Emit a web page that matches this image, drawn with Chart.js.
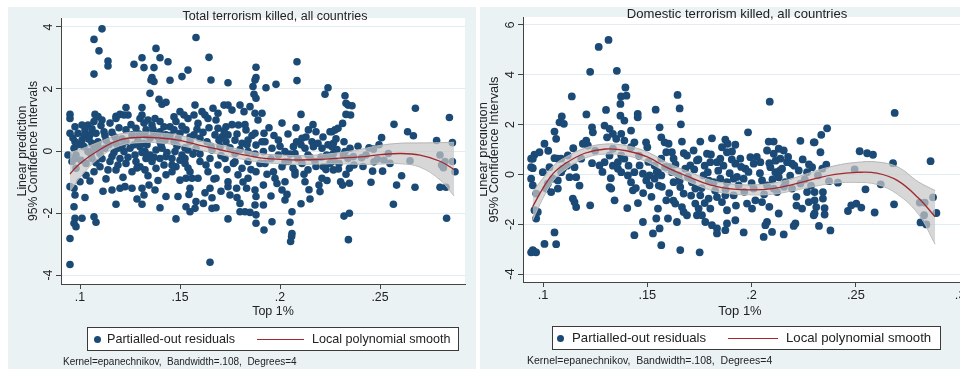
<!DOCTYPE html>
<html>
<head>
<meta charset="utf-8">
<script src="https://cdn.jsdelivr.net/npm/chart.js@4.4.1/dist/chart.umd.min.js"></script>
<style>
  body { margin: 0; width: 960px; height: 369px; overflow: hidden; position: relative; background: #fff; font-family: "Liberation Sans", Arial, sans-serif; color: #222; }
  canvas { position: absolute; }
  .txt { position: absolute; white-space: pre; text-align: center; }
  .legend { position: absolute; background: #fff; border: 1px solid #3a3a3a; box-sizing: border-box; }
  .legend .dot { position: absolute; width: 7px; height: 7px; border-radius: 50%; background: #1a4a75; }
  .legend .ln { position: absolute; height: 0; border-top: 1.5px solid #a3282e; }
  .legend .lab { position: absolute; white-space: pre; }
  .note { position: absolute; white-space: pre; }
</style>
</head>
<body>
<canvas id="totalChart" width="468" height="362" style="left:8px;top:7px"></canvas>
<canvas id="domesticChart" width="520" height="362" style="left:480px;top:7px"></canvas>

<div class="txt" style="left:125px;top:8px;width:300px;font-size:12.5px;line-height:16px">Total terrorism killed, all countries</div>
<div class="txt" style="left:187px;top:303px;width:172px;font-size:12.5px;line-height:16px">Top 1%</div>
<div class="legend" style="left:87px;top:327px;width:372px;height:24px">
  <span class="dot" style="left:6px;top:8px"></span>
  <span class="lab" style="left:19px;top:0;line-height:22px;font-size:12.6px">Partialled-out residuals</span>
  <span class="ln" style="left:169px;top:11px;width:47px"></span>
  <span class="lab" style="left:224px;top:0;line-height:22px;font-size:12.6px">Local polynomial smooth</span>
</div>
<div class="note" style="left:63px;top:355px;font-size:10px;line-height:13px">Kernel=epanechnikov,  Bandwidth=.108,  Degrees=4</div>

<div class="txt" style="left:587px;top:6px;width:300px;font-size:13.1px;line-height:16px">Domestic terrorism killed, all countries</div>
<div class="txt" style="left:654px;top:303px;width:172px;font-size:13px;line-height:16px">Top 1%</div>
<div class="legend" style="left:552px;top:326px;width:389px;height:24px">
  <span class="dot" style="left:4px;top:8px"></span>
  <span class="lab" style="left:19px;top:0;line-height:22px;font-size:13.2px">Partialled-out residuals</span>
  <span class="ln" style="left:175px;top:11px;width:50px"></span>
  <span class="lab" style="left:233px;top:0;line-height:22px;font-size:13.2px">Local polynomial smooth</span>
</div>
<div class="note" style="left:527px;top:354px;font-size:10.5px;line-height:13px">Kernel=epanechnikov,  Bandwidth=.108,  Degrees=4</div>

<script>
// Tick values shared by both panels
const xTicks = [0.1, 0.15, 0.2, 0.25, 0.3];
const xTickLabels = ['.1', '.15', '.2', '.25', '.3'];
const totalYTicks = [-4, -2, 0, 2, 4];
const domesticYTicks = [-4, -2, 0, 2, 4, 6];

// Total terrorism killed: partialled-out residuals [top 1% share, residual]
const totalResid = [
  [.111,3.94],[.107,3.60],[.1095,3.23],[.114,2.90],[.114,2.74],[.107,2.48],[.138,3.31],[.140,3.01],[.131,3.01],[.127,2.80],
  [.132,2.69],[.137,2.69],[.144,2.88],[.154,2.61],[.151,2.40],[.136,2.37],[.137,2.24],[.1355,2.29],[.145,2.28],[.135,1.86],
  [.131,1.40],[.1395,1.67],[.141,1.51],[.143,1.57],[.123,1.40],[.118,1.12],[.120,1.18],[.124,1.16],
  [.095,1.18],[.095,1.05],[.101,0.84],[.0975,0.78],[.1075,1.18],[.109,1.11],[.111,1.00],[.107,0.95],[.104,0.84],[.118,1.05],
  [.122,1.16],[.131,1.16],[.130,1.05],[.134,1.00],[.1375,1.05],[.136,0.84],[.140,0.95],[.145,0.78],[.150,1.27],[.152,1.16],
  [.154,1.05],[.157,1.16],[.148,0.95],
  [.095,0.57],[.099,0.57],[.1025,0.68],[.105,0.52],[.108,0.57],[.112,0.62],[.116,0.60],[.123,0.68],[.126,0.52],[.128,0.73],
  [.1325,0.52],[.133,0.68],[.137,0.57],[.140,0.62],[.143,0.52],[.147,0.68],[.150,0.57],[.153,0.68],[.157,0.52],[.0975,0.30],
  [.101,0.35],[.106,0.25],[.109,0.30],[.113,0.35],[.118,0.25],[.121,0.39],[.129,0.35],[.132,0.25],[.135,0.41],[.140,0.30],
  [.1425,0.35],[.147,0.30],[.149,0.39],[.155,0.30],
  [.094,-0.13],[.097,0.09],[.098,-0.13],[.102,0.14],[.104,-0.02],[.107,0.09],[.110,-0.08],[.1125,0.09],[.119,0.09],[.122,-0.02],
  [.125,0.09],[.1275,-0.13],[.130,0.14],[.1325,-0.02],[.135,-0.13],[.138,0.03],[.141,0.09],[.143,-0.18],[.1475,-0.02],[.151,-0.13],
  [.154,0.03],[.0975,-0.24],[.106,-0.24],[.116,-0.18],[.120,-0.24],[.133,-0.24],[.140,-0.24],[.146,-0.24],[.1525,-0.24],
  [.096,-0.34],[.098,-0.56],[.103,-0.40],[.107,-0.67],[.110,-0.51],[.115,-0.34],[.118,-0.61],[.123,-0.40],[.126,-0.67],[.130,-0.51],
  [.1325,-0.61],[.136,-0.34],[.138,-0.56],[.142,-0.45],[.146,-0.67],[.148,-0.51],[.1525,-0.40],[.155,-0.67],[.114,-0.61],[.128,-0.34],
  [.143,-0.77],
  [.095,-1.15],[.097,-1.20],[.0975,-1.42],[.100,-0.99],[.105,-0.97],[.116,-1.26],[.120,-1.20],[.1225,-1.15],[.126,-1.20],[.131,-1.20],
  [.132,-1.42],[.1375,-1.26],[.143,-1.47],[.149,-1.47],[.153,-0.88],[.150,-0.94],[.156,-0.88],[.155,-1.20],[.118,-1.72],[.131,-1.72],
  [.140,-1.83],[.153,-1.80],[.155,-1.96],[.1575,-1.85],
  [.097,-1.80],[.0975,-2.17],[.097,-2.33],[.098,-2.44],[.101,-2.17],[.107,-2.12],[.108,-2.30],[.095,-2.82],[.095,-3.66],[.148,-2.19],
  [.158,3.66],[.1645,3.02],[.1655,2.29],[.174,2.20],[.188,2.70],[.188,2.37],[.1875,2.29],[.1865,2.08],[.187,1.83],[.188,1.70],
  [.193,2.04],[.198,2.15],[.2085,2.88],[.2085,2.27],[.2105,1.18],[.224,2.04],[.2225,1.83],
  [.1575,1.48],[.161,1.27],[.1625,1.16],[.1665,1.38],[.169,1.22],[.172,1.48],[.174,1.48],[.176,1.32],[.180,1.48],[.182,1.27],
  [.185,1.43],[.1875,1.22],[.191,1.22],[.1792,0.84],[.159,0.89],[.164,1.05],[.169,0.73],[.173,0.78],[.183,0.68],[.1875,0.57],
  [.192,0.57],[.2142,0.68],[.218,0.62],[.211,0.41],[.216,0.30],[.225,0.62],
  [.160,0.41],[.1635,0.30],[.1675,0.52],[.171,0.46],[.174,0.52],[.173,0.30],[.1775,0.35],[.181,0.25],[.184,0.35],[.188,0.19],
  [.1925,0.30],[.196,0.09],[.1992,0.35],[.2025,-0.02],[.2067,0.14],[.2083,0.30],[.2125,0.09],[.2167,0.14],[.221,0.09],[.158,0.09],
  [.166,0.03],[.170,0.14],[.1775,-0.08],[.184,-0.02],[.1917,-0.02],[.1992,-0.13],[.2075,-0.08],[.214,-0.13],[.2233,-0.13],
  [.160,-0.34],[.165,-0.24],[.169,-0.45],[.1725,-0.24],[.1767,-0.40],[.181,-0.56],[.184,-0.34],[.188,-0.67],[.1925,-0.40],[.1967,-0.67],
  [.201,-0.51],[.2042,-0.34],[.2075,-0.67],[.211,-0.40],[.214,-0.61],[.2175,-0.34],[.2217,-0.51],[.225,-0.40],[.164,-0.67],[.159,-0.88],
  [.168,-0.88],[.174,-0.99],[.179,-0.77],[.184,-0.88],[.1917,-1.10],[.1975,-0.88],[.2025,-0.99],[.2075,-0.77],[.2125,-0.99],[.221,-0.88],
  [.165,-1.20],[.174,-1.15],[.1783,-1.20],[.1833,-1.20],[.175,-1.42],[.166,-1.51],[.1875,-1.26],[.188,-1.47],[.201,-1.26],[.2025,-1.58],
  [.215,-1.55],[.220,-1.31],[.158,-1.63],[.1617,-1.69],[.166,-1.85],[.168,-1.83],[.180,-1.69],[.1875,-1.74],[.1917,-1.74],[.180,-1.96],
  [.1825,-1.96],[.185,-1.98],[.188,-2.06],[.206,-1.96],[.174,-2.19],[.188,-2.33],[.196,-2.28],[.205,-2.30],[.192,-2.55],[.206,-2.66],
  [.2058,-2.76],[.2053,-2.92],[.165,-3.59],
  [.2325,1.78],[.233,1.54],[.234,1.48],[.236,1.46],[.233,1.18],[.2353,1.16],[.2313,0.89],[.229,0.73],[.2275,0.68],[.226,0.62],
  [.228,0.39],[.2267,0.25],[.226,0.14],[.235,0.09],[.2325,-0.02],[.2317,-0.13],[.234,-0.24],[.2367,-0.18],[.2267,-0.08],[.226,-0.34],
  [.2408,-0.22],[.243,-0.13],[.2467,0.06],[.2487,-0.26],[.2508,0.43],[.2542,-0.08],[.257,0.86],[.255,-0.40],[.2513,-0.65],[.2463,-0.65],
  [.2455,-1.01],[.2267,-0.61],[.2292,-0.58],[.233,-0.75],[.2347,-0.56],[.2303,-0.99],[.2313,-1.10],[.2347,-1.04],[.2608,-0.80],[.2583,-1.10],
  [.2567,-1.72],[.2638,0.62],[.2667,0.49],[.265,-0.32],[.2677,1.38],[.2675,-1.17],[.2783,0.34],[.280,-0.13],[.2808,-0.45],[.2817,-0.54],
  [.2825,-0.34],[.2847,1.08],[.2862,0.27],[.2862,-0.34],[.2875,-0.67],[.280,-1.17],[.283,-1.17],[.232,-2.10],[.2347,-2.01],[.2342,-2.86],
  [.2833,-2.17],
  [.0965,0.42],[.099,0.20],[.1005,-0.30],[.102,0.50],[.103,-0.78],[.1045,0.38],[.1055,-0.10],[.106,0.72],[.108,-0.38],[.109,0.15],
  [.1105,0.82],[.111,-0.25],[.1125,0.50],[.113,-0.90],[.1145,0.20],[.115,0.90],[.117,-0.05],[.1175,0.45],[.119,-0.45],[.1195,0.75],
  [.121,0.15],[.1215,-0.85],[.123,0.30],[.124,-0.20],[.1255,0.85],[.127,0.20],[.1285,-0.55],[.1295,0.55],[.131,-0.05],[.132,0.90],
  [.1335,0.20],[.134,-0.80],[.1365,0.70],[.137,-0.20],[.139,0.45],[.139,-0.95],[.1405,0.20],[.142,0.78],[.1435,-0.05],[.145,0.50],
  [.146,-0.45],[.147,1.10],[.1485,0.15],[.150,-0.30],[.151,0.80],[.1525,0.10],[.154,-0.55],[.155,0.45],[.1565,-0.10],[.1585,0.70],
  [.160,-0.10],[.1615,0.60],[.163,-0.45],[.1645,0.75],[.1655,0.15],[.167,-0.90],[.168,1.00],[.1695,0.35],[.1705,-0.15],[.172,0.65],
  [.1735,-0.60],[.175,0.10],[.176,0.85],[.1775,-0.35],[.1785,0.55],[.180,0.05],[.1815,-1.00],[.1825,0.85],[.1835,0.20],[.1855,-0.60],
  [.186,0.50],[.1875,-0.10],[.189,1.00],[.190,-0.40],[.191,0.30],[.1935,-0.75],[.1945,0.75],[.1955,-0.25],[.197,0.50],[.1985,-1.05],
  [.200,0.15],[.201,0.90],[.2025,-0.35],[.204,0.55],[.205,-0.10],[.2065,-0.55],[.208,0.75],[.209,-0.25],[.2105,0.20],[.212,-0.75],
  [.213,0.45],[.215,-0.20],[.2165,0.85],[.218,-0.50],[.219,0.25],[.2205,-0.20],[.2215,0.45],[.223,-0.60],[.224,0.20],[.2255,-0.15],
  [.227,-0.30],[.2285,0.05],[.2295,-0.40],[.232,0.30],[.237,-0.45],[.239,0.15],[.2415,-0.50],[.2445,0.10],[.247,-0.35],[.2495,0.20],
  [.252,-0.30],[.2195,-1.10],[.2145,-1.25],[.2035,-1.40],[.1955,-1.45],[.1705,-1.30],[.1545,-1.40],[.1345,-1.10],[.1115,-1.30],[.1025,-1.50],
  [.1285,-1.55],[.2105,-1.70],[.1625,-1.35],[.2235,-0.95],[.1785,-1.50]
];

// Total terrorism killed: local polynomial smooth and 95% band
const totalSmoothX = [.095, .10, .11, .12, .13, .14, .15, .16, .17, .18, .19, .20, .21, .22, .23, .24, .25, .26, .27, .28, .287];
const totalSmooth  = [-0.74, -0.40, 0.05, 0.36, 0.44, 0.42, 0.34, 0.18, 0.04, -0.10, -0.22, -0.27, -0.29, -0.27, -0.23, -0.19, -0.12, -0.08, -0.13, -0.33, -0.60];
const totalUpper   = [-0.05, 0.05, 0.30, 0.55, 0.61, 0.58, 0.50, 0.33, 0.19, 0.05, -0.08, -0.13, -0.15, -0.12, -0.05, 0.05, 0.18, 0.25, 0.26, 0.27, 0.28];
const totalLower   = [-1.30, -0.85, -0.20, 0.17, 0.27, 0.26, 0.18, 0.03, -0.11, -0.25, -0.36, -0.41, -0.43, -0.42, -0.41, -0.43, -0.42, -0.41, -0.52, -0.93, -1.45];

// Domestic terrorism killed: partialled-out residuals
const domesticResid = [
  [.1314,5.40],[.1267,5.12],[.1226,4.12],[.1354,4.16],[.1138,3.13],[.1395,3.49],[.1374,3.13],[.1371,2.83],[.140,3.16],[.1302,2.59],
  [.1371,2.36],[.139,2.16],[.1454,2.43],[.1454,2.29],[.154,2.60],[.1208,2.41],[.109,2.33],[.1079,2.09],[.110,2.03],[.1055,1.72],
  [.1007,1.23],[.0983,0.89],[.0959,0.79],[.0951,0.63],[.0951,0.25],[.1063,1.43],[.1235,1.89],[.1239,1.69],[.1207,1.36],[.1191,1.23],
  [.1215,1.16],[.1295,1.96],[.1319,1.83],[.1335,1.63],[.1307,1.49],[.1351,1.43],[.1375,1.63],[.139,1.36],[.1422,1.76],[.1438,1.29],
  [.1422,1.09],[.1494,1.29],[.150,1.09],[.1559,1.89],[.1567,1.49],[.1583,1.29],[.1119,0.76],[.1183,0.63],[.1151,0.29],[.1055,0.65],
  [.1071,0.63],[.1087,0.63],[.1031,0.29],[.0999,0.09],[.1047,-0.17],[.1071,-0.24],[.1087,0.09],[.1095,0.23],[.1023,-0.37],[.1015,-0.57],
  [.1039,-0.71],[.1071,-0.57],[.0943,-0.17],[.0951,-0.44],[.0967,-0.77],[.0943,0.63],[.0959,-1.44],[.0975,-1.51],[.0967,-1.77],[.0943,0.29],
  [.1127,-0.11],[.1159,-0.11],[.1143,-0.97],[.1159,-1.31],[.1151,-1.11],[.1226,-1.24],[.1055,-2.33],[.1063,-2.80],[.1007,-2.79],[.0951,-3.04],
  [.0959,-3.11],[.0967,-3.13],[.0943,-3.13],[.1271,0.36],[.1295,0.49],[.1319,0.76],[.1335,1.03],[.1359,0.49],[.1375,0.76],[.139,0.63],
  [.1359,0.23],[.1319,-0.51],[.1327,-0.57],[.1343,-1.04],[.1375,0.09],[.1407,-0.04],[.1422,-0.31],[.1438,0.09],[.1404,-1.35],[.1431,-0.64],
  [.1438,-2.44],[.1463,0.36],[.1479,0.03],[.1495,-0.24],[.1511,-0.44],[.1511,-0.04],[.1535,-0.17],[.1551,0.09],[.1567,-0.04],[.1535,0.36],
  [.1567,0.63],[.1591,0.89],[.1479,-1.91],[.1527,-2.37],[.1543,-1.77],[.1567,-2.84],[.1551,-1.37],[.1591,-1.04],[.1559,-2.17],[.1599,-1.77],
  [.1645,3.19],[.1655,2.65],[.1661,2.01],[.2087,2.92],[.1666,1.32],[.1754,1.32],[.1810,1.45],[.1874,1.40],[.1885,1.23],[.1858,1.09],
  [.1922,1.19],[.1906,0.92],[.1983,1.69],[.2082,1.32],[.2106,1.32],[.2234,1.35],[.2298,1.29],[.1602,1.23],[.1618,0.89],[.1626,0.63],
  [.169,0.76],[.1722,0.96],[.1738,0.56],[.1786,0.83],[.1802,0.49],[.1834,0.49],[.185,0.63],[.1882,0.89],[.1922,0.43],[.1946,0.63],
  [.197,0.23],[.1994,0.69],[.201,0.43],[.2042,0.49],[.2074,0.96],[.2106,0.83],[.213,1.03],[.2154,0.96],[.2138,0.63],[.217,0.49],
  [.2194,0.43],[.2226,0.16],[.2266,0.09],[.229,0.29],[.2090,0.29],[.2114,0.09],[.2146,0.23],[.213,-0.11],[.1602,0.29],[.1618,0.09],
  [.165,-0.04],[.1682,0.23],[.1706,0.36],[.1626,-0.31],[.1658,-0.51],[.1674,-0.77],[.1714,-0.31],[.173,-0.57],[.177,-0.04],[.179,0.09],
  [.1818,-0.31],[.185,-0.17],[.1882,-0.31],[.1914,-0.17],[.1938,-0.44],[.1962,-0.17],[.201,-0.57],[.205,-0.24],[.2074,-0.44],[.2106,-0.57],
  [.2122,-0.71],[.2162,-0.31],[.2194,-0.57],[.2234,-0.37],[.2266,-0.71],[.1754,-0.84],[.1794,-0.97],[.1834,-0.91],[.1874,-0.84],[.1914,-0.84],
  [.1634,-1.17],[.1666,-1.31],[.169,-1.64],[.1642,-1.91],[.1674,-1.51],[.173,-1.17],[.1746,-1.37],[.1762,-1.64],[.1738,-1.64],[.1802,-1.37],
  [.1778,-1.91],[.181,-2.04],[.1834,-2.37],[.1834,-2.17],[.1874,-2.24],[.1882,-1.97],[.1922,-1.84],[.1978,-1.17],[.2002,-1.37],[.2018,-1.04],
  [.205,-1.11],[.213,-1.57],[.2074,-1.91],[.2066,-2.04],[.2098,-2.31],[.2058,-2.51],[.2154,-2.41],[.1962,-2.33],[.221,-1.97],[.2202,-2.07],
  [.2242,-1.37],[.2274,-1.11],[.2298,-1.64],[.1658,-3.04],[.1751,-3.13],[.1882,-1.44],[.1858,-1.11],
  [.2686,2.47],[.2362,1.85],[.2334,1.59],[.2302,1.29],[.2330,0.89],[.2358,0.39],[.2339,0.23],[.2318,-0.04],[.2371,-0.27],[.2414,-0.33],
  [.2518,0.93],[.2554,0.85],[.2582,0.79],[.2494,0.20],[.2678,0.45],[.2858,0.53],[.2546,-0.60],[.2619,-0.40],[.2683,-1.20],[.2590,-1.53],
  [.2462,-1.47],[.2478,-1.24],[.2502,-1.17],[.2526,-1.33],[.2302,-0.71],[.2342,-0.71],[.2302,-1.04],[.2342,-0.97],[.231,-1.31],[.235,-1.35],
  [.2302,-1.57],[.2350,-1.61],[.2323,-2.07],[.2378,-2.25],[.2806,-1.13],[.2830,-1.13],[.287,-0.92],[.2886,-1.55],[.2827,-1.64],[.281,-1.93],
  [.2838,-2.01],
  [.141,0.35],[.1445,-0.55],[.146,0.75],[.148,-0.75],[.1505,0.50],[.152,-0.90],[.1545,0.10],[.157,-0.50],[.1585,0.30],[.1605,-0.75],
  [.1635,0.40],[.1655,-0.25],[.1675,0.85],[.1695,-0.10],[.171,-0.85],[.1725,0.20],[.1745,0.60],[.176,-0.55],[.1775,0.35],[.1795,-0.25],
  [.1805,0.80],[.1825,-0.65],[.184,0.15],[.1865,0.35],[.1875,-0.60],[.1895,0.05],[.1905,0.60],[.193,-0.10],[.195,0.30],[.1965,-0.70],
  [.1985,0.10],[.200,-0.35],[.2025,0.70],[.204,0.05],[.206,-0.80],[.2085,0.45],[.210,-0.20],[.2115,0.55],[.2135,0.15],[.2155,-0.50],
  [.2175,0.70],[.2185,-0.05],[.2205,0.35],[.2215,-0.90],[.2245,0.60],[.2255,-0.20],[.2275,0.40],[.2285,-0.45],[.1625,-1.05],[.1775,-1.15],
  [.1925,-1.25],[.2085,-1.30],[.2215,-1.25],[.1555,-0.45],[.1455,-1.15],[.1325,-0.15],[.1285,0.10],[.1235,0.45],[.1175,-0.45],[.1115,0.35],
  [.1025,0.95],[.1145,1.05],[.125,0.95],[.1335,0.35]
];

// Domestic terrorism killed: local polynomial smooth and 95% band
const domesticSmoothX = [.095, .10, .105, .11, .12, .13, .14, .15, .16, .17, .18, .19, .20, .21, .22, .23, .24, .25, .26, .27, .28, .288];
const domesticSmooth  = [-1.30, -0.55, 0.05, 0.40, 0.85, 1.02, 0.95, 0.70, 0.25, -0.10, -0.42, -0.58, -0.62, -0.57, -0.40, -0.18, 0.00, 0.08, 0.05, -0.25, -0.95, -1.70];
const domesticUpper   = [-0.72, -0.15, 0.35, 0.65, 1.05, 1.22, 1.15, 0.90, 0.45, 0.10, -0.22, -0.38, -0.42, -0.35, -0.15, 0.12, 0.35, 0.48, 0.50, 0.30, -0.30, -0.65];
const domesticLower   = [-1.85, -0.95, -0.25, 0.15, 0.65, 0.82, 0.75, 0.50, 0.05, -0.30, -0.62, -0.78, -0.82, -0.80, -0.65, -0.48, -0.35, -0.32, -0.40, -0.80, -1.60, -2.80];

const FONT = '"Liberation Sans", Arial, sans-serif';

// Light blue graph background with white plot region, like Stata s2color
const panelBg = {
    id: 'panelBg',
    beforeDraw(chart) {
        const { ctx, chartArea: a } = chart;
        ctx.save();
        ctx.fillStyle = '#eaf2f4';
        ctx.fillRect(0, 0, chart.width, chart.height);
        ctx.fillStyle = '#ffffff';
        ctx.fillRect(a.left, a.top, a.right - a.left, a.bottom - a.top);
        ctx.restore();
    }
};

function pairs(xs, ys) {
    return xs.map((x, i) => ({ x: x, y: ys[i] }));
}

function makePanel(id, p) {
    const ctx = document.getElementById(id).getContext('2d');
    return new Chart(ctx, {
        type: 'scatter',
        data: {
            datasets: [
                // CI band sits over the dots, the smooth over everything
                {
                    data: pairs(p.smoothX, p.upper),
                    showLine: true, pointRadius: 0, tension: 0.4,
                    borderColor: '#b4b4b4', borderWidth: 1,
                    backgroundColor: 'rgba(200,200,200,0.72)',
                    fill: '+1', order: 2
                },
                {
                    data: pairs(p.smoothX, p.lower),
                    showLine: true, pointRadius: 0, tension: 0.4,
                    borderColor: '#b4b4b4', borderWidth: 1,
                    fill: false, order: 2
                },
                {
                    data: p.resid.map(r => ({ x: r[0], y: r[1] })),
                    pointRadius: p.dot, pointBorderWidth: 0,
                    backgroundColor: '#1a4a75', order: 3
                },
                {
                    data: pairs(p.smoothX, p.smooth),
                    showLine: true, pointRadius: 0, tension: 0.4,
                    borderColor: '#a3282e', borderWidth: 1.3,
                    fill: false, order: 1
                }
            ]
        },
        options: {
            responsive: false,
            animation: false,
            devicePixelRatio: 1,
            layout: { padding: { left: 0, right: p.padRight, top: p.padTop, bottom: p.padBottom } },
            plugins: { legend: { display: false }, tooltip: { enabled: false } },
            scales: {
                x: {
                    type: 'linear', min: p.xMin, max: p.xMax,
                    afterBuildTicks: s => { s.ticks = xTicks.filter(v => v <= p.xMax).map(v => ({ value: v })); },
                    afterFit: s => { s.height = 20; },
                    ticks: {
                        autoSkip: false, maxRotation: 0, minRotation: 0, padding: 1,
                        color: '#222', font: { family: FONT, size: p.fs },
                        callback: v => xTickLabels[xTicks.indexOf(v)]
                    },
                    grid: { drawOnChartArea: false, drawTicks: true, tickLength: 5, tickColor: '#444' },
                    border: { color: '#444', width: 1 }
                },
                y: {
                    min: p.yMin, max: p.yMax,
                    afterBuildTicks: s => { s.ticks = p.yTicks.map(v => ({ value: v })); },
                    afterFit: s => { s.width = p.yWidth; },
                    ticks: {
                        minRotation: 90, maxRotation: 90, crossAlign: 'center', padding: p.yTickPad,
                        color: '#222', font: { family: FONT, size: p.fs }
                    },
                    grid: { color: '#e3ecf0', lineWidth: 1, drawTicks: true, tickLength: 5, tickColor: '#444' },
                    border: { color: '#444', width: 1 },
                    title: {
                        display: true,
                        text: ['Linear prediction', '95% Confidence Intervals'],
                        color: '#222',
                        font: { family: FONT, size: p.fs, lineHeight: p.titleLh },
                        padding: { top: p.titlePad, bottom: 0 }
                    }
                }
            }
        },
        plugins: [panelBg]
    });
}

makePanel('totalChart', {
    resid: totalResid, smoothX: totalSmoothX, smooth: totalSmooth, upper: totalUpper, lower: totalLower,
    xMin: 0.0905, xMax: 0.2925, yMin: -4.29, yMax: 4.29, yTicks: totalYTicks,
    padRight: 11, padTop: 11, padBottom: 65, yWidth: 53, yTickPad: 2,
    fs: 12.3, titleLh: '11px', titlePad: 9.5, dot: 3.8
});

makePanel('domesticChart', {
    resid: domesticResid, smoothX: domesticSmoothX, smooth: domesticSmooth, upper: domesticUpper, lower: domesticLower,
    xMin: 0.0904, xMax: 0.3143, yMin: -4.32, yMax: 6.32, yTicks: domesticYTicks,
    padRight: 10, padTop: 10, padBottom: 67, yWidth: 43, yTickPad: 2,
    fs: 12.8, titleLh: '11px', titlePad: -2.5, dot: 3.9
});
</script>
</body>
</html>
